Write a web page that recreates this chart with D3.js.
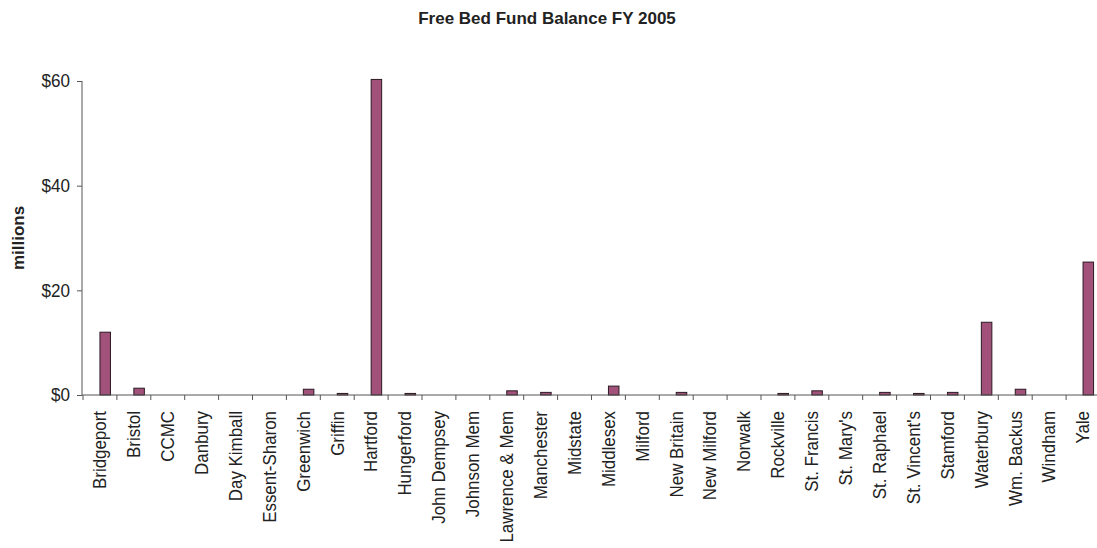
<!DOCTYPE html>
<html><head><meta charset="utf-8">
<script src="https://cdn.jsdelivr.net/npm/d3@7"></script>
<style>body{margin:0;background:#fff}svg{display:block}text{font-family:"Liberation Sans",Arial,sans-serif;fill:#222}</style>
</head><body><svg id="c" width="1097" height="548"></svg>
<script>
const categories = ["Bridgeport","Bristol","CCMC","Danbury","Day Kimball","Essent-Sharon","Greenwich","Griffin","Hartford","Hungerford","John Dempsey","Johnson Mem","Lawrence & Mem","Manchester","Midstate","Middlesex","Milford","New Britain","New Milford","Norwalk","Rockville","St. Francis","St. Mary's","St. Raphael","St. Vincent's","Stamford","Waterbury","Wm. Backus","Windham","Yale"];
const balances = [12.0,1.3,0,0,0,0,1.1,0.3,60.3,0.3,0,0,0.8,0.5,0,1.7,0,0.5,0,0,0.3,0.8,0,0.5,0.3,0.5,13.9,1.1,0,25.4];
const yTicks = [0,20,40,60];
const title = "Free Bed Fund Balance FY 2005";
const yTitle = "millions";

const svg = d3.select("#c");
const pL = 83, pR = 1100, pT = 81, pB = 395;
const x = d3.scaleBand().domain(categories).range([pL, pR]).padding(0);
const y = d3.scaleLinear().domain([0, 60]).range([pB, pT]);
const data = categories.map((c, i) => ({c, v: balances[i]}));

svg.append("text").attr("x", 547).attr("y", 24).attr("text-anchor", "middle")
  .style("font-size", "17px").style("font-weight", "bold").text(title);

svg.append("text").attr("transform", `translate(24,${(pT+pB)/2}) rotate(-90)`)
  .attr("text-anchor", "middle").style("font-size", "17px").style("font-weight", "bold").text(yTitle);

// y axis
const yAxis = svg.append("g").attr("transform", `translate(${pL-1},0)`)
  .call(d3.axisLeft(y).tickValues(yTicks).tickSize(5).tickPadding(7).tickFormat(d => "$" + d));
yAxis.select(".domain").attr("stroke", "#555").attr("d", `M0,${pT}V${pB}`);
yAxis.selectAll(".tick line").attr("stroke", "#555");
yAxis.selectAll(".tick text")
  .style("font-size", "18px").style("font-family", '"Liberation Sans",Arial,sans-serif').attr("fill", "#222")
  .attr("transform", "translate(-12,0) scale(0.95,1)").attr("x", 0);

// bars
const bw = x.bandwidth() * 0.31;
svg.append("g").selectAll("rect").data(data.filter(d => d.v > 0)).join("rect")
  .attr("x", d => x(d.c) + x.bandwidth() / 2)
  .attr("y", d => y(d.v))
  .attr("width", bw)
  .attr("height", d => y(0) - y(d.v))
  .attr("fill", "#a2517a").attr("stroke", "#2a1a22").attr("stroke-width", 1);

// x axis
const xa = svg.append("g");
xa.append("line").attr("x1", pL - 1).attr("x2", pR).attr("y1", pB).attr("y2", pB).attr("stroke", "#555");
xa.selectAll("line.tk").data(d3.range(categories.length + 1)).join("line").attr("class", "tk")
  .attr("x1", i => pL + i * x.step()).attr("x2", i => pL + i * x.step())
  .attr("y1", pB).attr("y2", pB + 5).attr("stroke", "#555");
xa.selectAll("text").data(categories).join("text")
  .attr("transform", d => `translate(${x(d) + x.bandwidth() / 2},${pB + 16}) rotate(-90) scale(0.94,1)`)
  .attr("text-anchor", "end").attr("dy", "0.35em").style("font-size", "18px").text(d => d);
</script></body></html>
